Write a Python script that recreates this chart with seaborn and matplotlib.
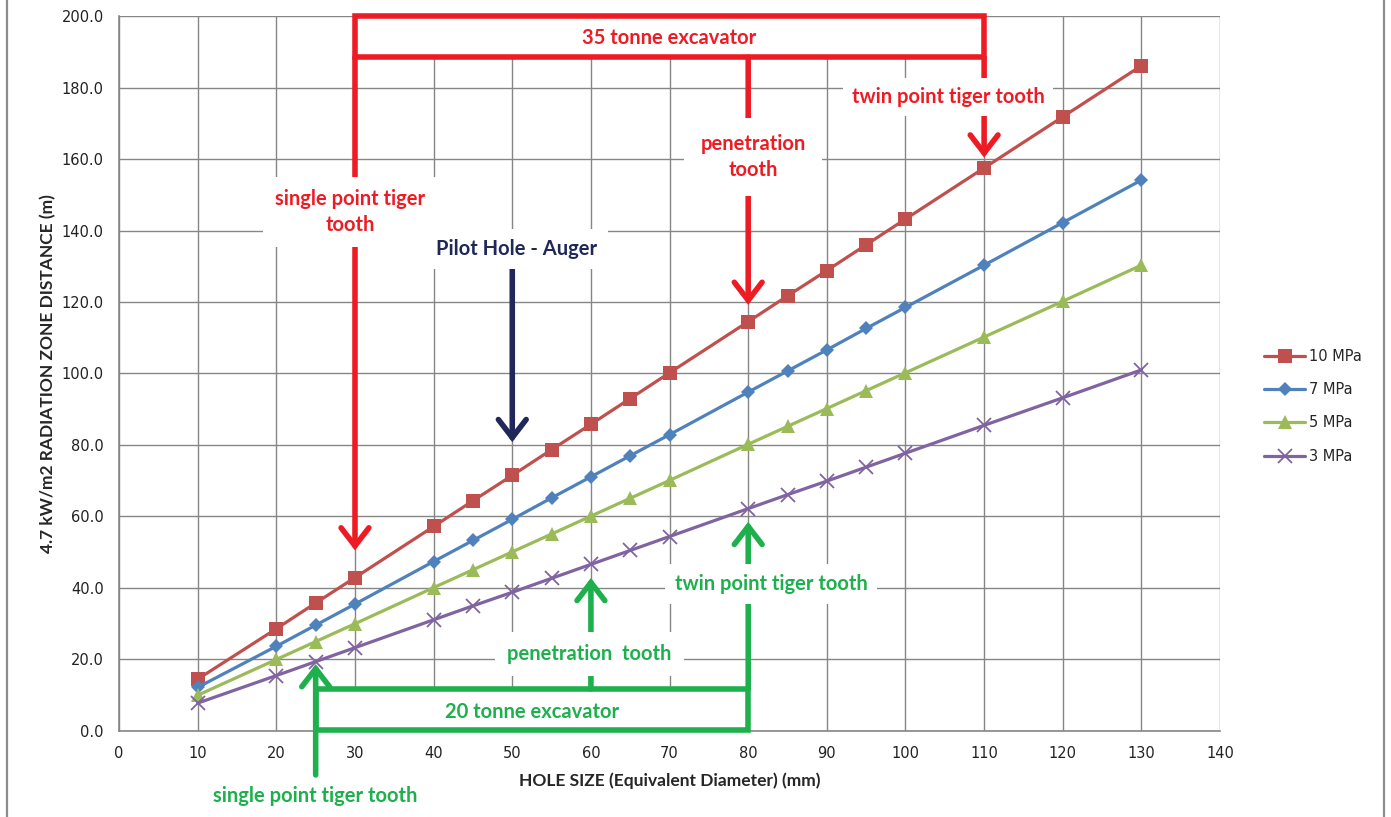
import matplotlib
matplotlib.use("Agg")
import matplotlib.pyplot as plt
from matplotlib.patches import Rectangle
from matplotlib.lines import Line2D
import seaborn as sns
import pandas as pd

# ---------------------------------------------------------------------
# data
hole_mm = [10, 20, 25, 30, 40, 45, 50, 55, 60, 65, 70, 80, 85, 90, 95, 100, 110, 120, 130]
mpa_10 = [14.5, 28.6, 35.8, 42.9, 57.2, 64.4, 71.5, 78.7, 85.8, 93.0, 100.2, 114.5,
          121.7, 128.8, 136.0, 143.2, 157.5, 171.8, 186.1]
mpa_7 = [12.2, 23.7, 29.6, 35.5, 47.4, 53.3, 59.2, 65.2, 71.1, 77.0, 82.9, 94.8,
         100.7, 106.6, 112.6, 118.5, 130.3, 142.2, 154.1]
mpa_5 = [10.0, 20.0, 25.0, 30.0, 40.1, 45.1, 50.1, 55.1, 60.1, 65.1, 70.1, 80.2,
         85.2, 90.2, 95.2, 100.2, 110.2, 120.2, 130.3]
mpa_3 = [7.8, 15.5, 19.4, 23.3, 31.1, 35.0, 38.8, 42.7, 46.6, 50.5, 54.4, 62.2,
         66.1, 69.9, 73.8, 77.7, 85.5, 93.2, 101.0]
series_names = ["10 MPa", "7 MPa", "5 MPa", "3 MPa"]
series_vals = [mpa_10, mpa_7, mpa_5, mpa_3]

x_ticks = list(range(0, 141, 10))
y_ticks = list(range(0, 201, 20))

# ---------------------------------------------------------------------
sns.set_style("white")
plt.rcParams["font.family"] = ["DejaVu Sans"]

rows = []
for name, vals in zip(series_names, series_vals):
    for h, v in zip(hole_mm, vals):
        rows.append({"hole": h, "dist": v, "pressure": name})
df = pd.DataFrame(rows)

palette = {"10 MPa": "#C0504D", "7 MPa": "#4F81BD", "5 MPa": "#9BBB59", "3 MPa": "#8064A2"}
markers = {"10 MPa": "s", "7 MPa": "D", "5 MPa": "^", "3 MPa": "x"}
sizes_mk = {"10 MPa": 10.5, "7 MPa": 7.5, "5 MPa": 10, "3 MPa": 9.5}

fig = plt.figure(figsize=(13.91, 8.17), dpi=100)
ax = fig.add_axes([0.0856, 0.1053, 0.7915, 0.8751])

for name in series_names:
    sub = df[df.pressure == name]
    sns.lineplot(data=sub, x="hole", y="dist", color=palette[name], marker=markers[name],
                 markersize=sizes_mk[name], markeredgewidth=1.3 if name == "3 MPa" else 0,
                 markeredgecolor=palette[name], lw=2.3, label=name, ax=ax, zorder=3)

grey = "#868686"
ax.set_xlim(0, 140)
ax.set_ylim(0, 200)
ax.set_xticks(x_ticks)
ax.set_yticks(y_ticks)
ax.set_yticklabels([f"{v:.1f}" for v in y_ticks])
ax.grid(True, color=grey, lw=1, zorder=0)
ax.set_axisbelow(True)
for s in ["top", "right"]:
    ax.spines[s].set_visible(False)
for s in ["left", "bottom"]:
    ax.spines[s].set_color(grey)
    ax.spines[s].set_linewidth(1.2)
ax.tick_params(axis="both", direction="out", length=5, color=grey, labelsize=10.5,
               labelcolor="#222222", pad=6)

lab_font = ["Lato", "DejaVu Sans"]
ax.set_xlabel("HOLE SIZE (Equivalent Diameter) (mm)", fontsize=12.5, fontweight="bold",
              family=lab_font, labelpad=8)
ax.set_ylabel("4.7 kW/m2 RADIATION ZONE DISTANCE (m)", fontsize=12.5, fontweight="bold",
              family=lab_font, labelpad=4)

leg = ax.legend(loc="center left", bbox_to_anchor=(1.04, 0.454), frameon=False,
                fontsize=10.5, borderaxespad=0, borderpad=0, handlelength=2.8,
                handletextpad=0.3, labelspacing=1.25)

# ---------------------------------------------------------------------
# annotations
red = "#ED1C24"
green = "#1DB04C"
navy = "#1F2859"
ann_font = ["Lato", "DejaVu Sans"]
ann_size = 14.5


def arrow(x, y_from, y_to, color):
    ax.annotate("", xy=(x, y_to), xytext=(x, y_from), annotation_clip=False,
                arrowprops=dict(arrowstyle="->,head_length=0.65,head_width=0.5",
                                mutation_scale=20, lw=4, color=color,
                                shrinkA=0, shrinkB=0, joinstyle="miter"),
                zorder=5)


def label(x, y, txt, color, padx=0.6):
    ax.text(x, y, txt, color=color, fontsize=ann_size, fontweight="bold", family=ann_font,
            ha="center", va="center", linespacing=1.4, zorder=6, clip_on=False,
            bbox=dict(boxstyle=f"square,pad={padx}", fc="white", ec="none"))


# 35 tonne excavator
ax.add_patch(Rectangle((30, 188.5), 80, 11.5, fc="white", ec=red, lw=4,
                       zorder=5, clip_on=False))
ax.text(70, 193.8, "35 tonne excavator", color=red, fontsize=ann_size, fontweight="bold",
        family=ann_font, ha="center", va="center", zorder=6)
arrow(30, 188.5, 50.5, red)
arrow(80, 188.5, 119.2, red)
arrow(110, 188.5, 160.4, red)
label(29.4, 145.2, "single point tiger\ntooth", red, 0.6)
label(80.6, 160.6, "penetration\ntooth", red, 0.8)
label(105.4, 177.3, "twin point tiger tooth", red, 0.45)

# pilot hole
arrow(50, 129.5, 80.8, navy)
label(50.6, 134.8, "Pilot Hole - Auger", navy, 0.5)

# 20 tonne excavator
ax.add_patch(Rectangle((25, 0.2), 55, 11.5, fc="white", ec=green, lw=4,
                       zorder=5, clip_on=False))
ax.text(52.5, 5.3, "20 tonne excavator", color=green, fontsize=ann_size, fontweight="bold",
        family=ann_font, ha="center", va="center", zorder=6)
arrow(25, -12.3, 18.7, green)
arrow(60, 11.7, 42.8, green)
arrow(80, 11.7, 58.5, green)
label(25, -18.2, "single point tiger tooth", green, 0.25)
label(59.8, 21.5, "penetration  tooth", green, 0.6)
label(82.9, 41.1, "twin point tiger tooth", green, 0.5)

# outer chart frame
for fx in [7 / 1391, 1384 / 1391]:
    fig.add_artist(Line2D([fx, fx], [0, 1], color="#8C8C8C", lw=1.6,
                          transform=fig.transFigure))

fig.savefig("out.png", dpi=100)
